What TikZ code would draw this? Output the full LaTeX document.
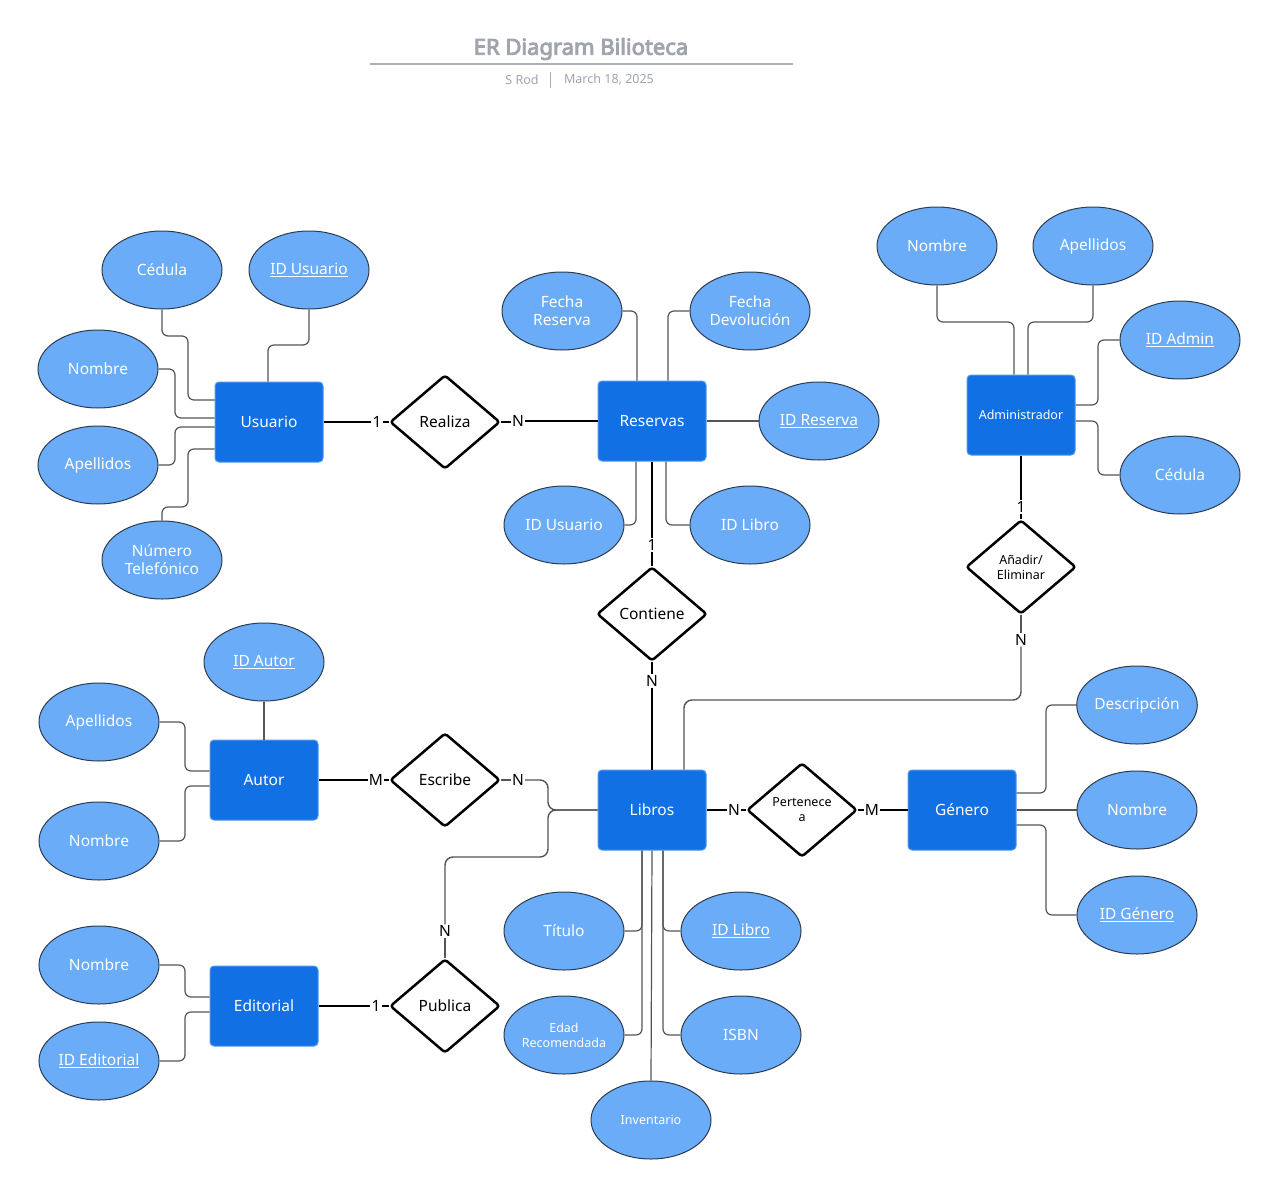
\documentclass[tikz,border=0pt]{standalone}
\usepackage{fontspec}
\setmainfont{Noto Sans}
\newfontfamily\titlefont{Noto Sans}[FakeBold=4]
\usetikzlibrary{shapes.geometric}
\definecolor{entblue}{RGB}{17,112,228}
\definecolor{entedge}{RGB}{80,150,240}
\definecolor{attblue}{RGB}{106,172,248}
\definecolor{attedge}{RGB}{45,60,80}
\definecolor{linegray}{RGB}{85,85,85}
\definecolor{titlegray}{RGB}{160,164,172}
\definecolor{rulegray}{RGB}{170,175,185}
\tikzset{
 entity/.style={draw=entedge, line width=1pt, fill=entblue, rounded corners=4pt, minimum width=108pt, minimum height=80pt, inner sep=0pt, text=white, align=center, font=\fontsize{15.5}{18}\selectfont},
 attr/.style={ellipse, draw=attedge, line width=1pt, fill=attblue, minimum width=120pt, minimum height=78pt, inner sep=0pt, text=white, align=center, font=\fontsize{15.5}{18}\selectfont},
 smallattr/.style={attr, font=\fontsize{12.5}{15}\selectfont},
 rel/.style={diamond, draw=black, line width=2.5pt, fill=white, rounded corners=3pt, minimum width=110pt, minimum height=94pt, inner sep=0pt, align=center, font=\fontsize{15.5}{18}\selectfont},
 smallrel/.style={rel, font=\fontsize{12.5}{15}\selectfont},
 card/.style={inner sep=1pt, font=\fontsize{15.5}{18}\selectfont},
 attline/.style={draw=linegray, line width=1.2pt, rounded corners=6pt},
 relline/.style={draw=black, line width=2pt},
 thinrel/.style={draw=linegray, line width=1.4pt, rounded corners=8pt},
}
\begin{document}
\begin{tikzpicture}[x=1pt,y=-1pt]
\path[use as bounding box, fill=white] (0,0) rectangle (1280,1196);

% title
\node[text=titlegray, font=\titlefont\fontsize{22}{26}\selectfont] (title) at (581,49) {ER Diagram Bilioteca};
\draw[rulegray, line width=1.5pt] (370,64) -- (793,64);
\node[text=titlegray, font=\fontsize{12.5}{15}\selectfont] (author) at (522,80) {S Rod};
\node[text=titlegray, font=\fontsize{12.5}{15}\selectfont] (date) at (609,80) {March 18, 2025};
\draw[rulegray, line width=1pt] (550,72) -- (550,88);

% entities
\node[entity] (usr) at (269,422) {Usuario};
\node[entity] (res) at (652,421) {Reservas};
\node[entity, font=\fontsize{12.5}{15}\selectfont] (adm) at (1021,415) {Administrador};
\node[entity] (aut) at (264,780) {Autor};
\node[entity] (lib) at (652,810) {Libros};
\node[entity] (gen) at (962,810) {Género};
\node[entity] (edi) at (264,1006) {Editorial};

% relationships
\node[rel] (rea) at (445,422) {Realiza};
\node[rel] (con) at (652,614) {Contiene};
\node[smallrel] (ae) at (1021,567) {Añadir/\\Eliminar};
\node[rel] (esc) at (445,780) {Escribe};
\node[smallrel] (per) at (802,810) {Pertenece\\a};
\node[rel] (pub) at (445,1006) {Publica};

% attributes Usuario
\node[attr] (ced) at (162,270) {Cédula};
\node[attr] (idu) at (309,270) {\underline{ID Usuario}};
\node[attr] (nom) at (98,369) {Nombre};
\node[attr] (ape) at (98,465) {Apellidos};
\node[attr] (num) at (162,560) {Número\\Telefónico};

% attributes Reservas
\node[attr] (fr) at (562,311) {Fecha\\Reserva};
\node[attr] (fd) at (750,311) {Fecha\\Devolución};
\node[attr] (idr) at (819,421) {\underline{ID Reserva}};
\node[attr] (riu) at (564,525) {ID Usuario};
\node[attr] (ril) at (750,525) {ID Libro};

% attributes Administrador
\node[attr] (an) at (937,246) {Nombre};
\node[attr] (aa) at (1093,246) {Apellidos};
\node[attr] (aid) at (1180,340) {\underline{ID Admin}};
\node[attr] (ac) at (1180,475) {Cédula};

% attributes Autor
\node[attr] (aia) at (264,662) {\underline{ID Autor}};
\node[attr] (aap) at (99,722) {Apellidos};
\node[attr] (anm) at (99,841) {Nombre};

% attributes Genero
\node[attr] (gd) at (1137,705) {Descripción};
\node[attr] (gn) at (1137,810) {Nombre};
\node[attr] (gid) at (1137,915) {\underline{ID Género}};

% attributes Editorial
\node[attr] (en) at (99,965) {Nombre};
\node[attr] (eid) at (99,1061) {\underline{ID Editorial}};

% attributes Libros
\node[attr] (ti) at (564,931) {Título};
\node[attr] (il) at (741,931) {\underline{ID Libro}};
\node[smallattr] (ed) at (564,1035) {Edad\\Recomendada};
\node[attr] (isb) at (741,1035) {ISBN};
\node[smallattr] (inv) at (651,1120) {Inventario};

% cardinality labels
\node[card] (r1) at (377,422) {1};
\node[card] (r2) at (518,421) {N};
\node[card] (k1) at (652,545) {1};
\node[card] (k2) at (652,681) {N};
\node[card] (a1) at (1021,507) {1};
\node[card] (a2) at (1021,640) {N};
\node[card] (e1) at (376,780) {M};
\node[card] (e2) at (518,780) {N};
\node[card] (p1) at (734,810) {N};
\node[card] (p3) at (872,810) {M};
\node[card] (u1) at (376,1006) {1};
\node[card] (u2) at (445,931) {N};

% attribute connectors Usuario
\path[attline] (ced.south) |- (188,336) |- ([yshift=22pt]usr.west);
\path[attline] (idu.south) |- (268,345) -- ([xshift=-1pt]usr.north);
\path[attline] (nom.east) -| (175,418) -- ([yshift=4pt]usr.west);
\path[attline] (ape.east) -| (175,427) -- ([yshift=-5pt]usr.west);
\path[attline] (num.north) |- (188,507) |- ([yshift=-27pt]usr.west);

% Reservas
\path[attline] (fr.east) -| ([xshift=-15pt]res.north);
\path[attline] (fd.west) -| ([xshift=16pt]res.north);
\path[attline] (res.east) -- (idr.west);
\path[attline] ([xshift=-16pt]res.south) |- (riu.east);
\path[attline] ([xshift=14pt]res.south) |- (ril.west);

% Administrador
\path[attline] (an.south) |- (1014,322) -- ([xshift=-7pt]adm.north);
\path[attline] (aa.south) |- (1028,322) -- ([xshift=7pt]adm.north);
\path[attline] (aid.west) -| (1098,405) -- ([yshift=10pt]adm.east);
\path[attline] ([yshift=-6pt]adm.east) -| (1098,475) -- (ac.west);

% Autor
\path[attline] (aia.south) -- (aut.north);
\path[attline] (aap.east) -| (185,771) -- ([yshift=9pt]aut.west);
\path[attline] (anm.east) -| (185,786) -- ([yshift=-6pt]aut.west);

% Genero
\path[attline] ([yshift=17pt]gen.east) -| (1046,705) -- (gd.west);
\path[attline] (gen.east) -- (gn.west);
\path[attline] ([yshift=-15pt]gen.east) -| (1046,915) -- (gid.west);

% Editorial
\path[attline] (en.east) -| (185,997) -- ([yshift=9pt]edi.west);
\path[attline] (eid.east) -| (185,1012) -- ([yshift=-6pt]edi.west);

% Libros
\path[attline] ([xshift=-10pt]lib.south) |- (ti.east);
\path[attline] ([xshift=-10pt]lib.south) |- (ed.east);
\path[attline] (lib.south) -- (inv.north);
\path[attline] ([xshift=11pt]lib.south) |- (il.west);
\path[attline] ([xshift=11pt]lib.south) |- (isb.west);

% relationship connectors
\path[relline] (usr.east) -- (r1.west);
\path[relline] (r1.east) -- (rea.west);
\path[relline] (rea.east) -- (rea.east -| r2.west);
\path[relline] (r2.east) -- (r2.east -| res.west);

\path[relline] (res.south) -- (k1.north);
\path[relline] (k1.south) -- (con.north);
\path[relline] (con.south) -- (k2.north);
\path[relline] (k2.south) -- (lib.north);

\path[relline] (adm.south) -- (a1.north);
\path[relline] (a1.south) -- (ae.north);
\path[thinrel] (ae.south) -- (a2.north);
\path[thinrel] (a2.south) |- (684,700) -- ([xshift=32pt]lib.north);

\path[relline] (aut.east) -- (e1.west);
\path[relline] (e1.east) -- (esc.west);
\path[thinrel] (esc.east) -- (e2.west);
\path[thinrel] (e2.east) -| (548,810) -- (lib.west);

\path[relline] (lib.east) -- (p1.west);
\path[relline] (p1.east) -- (per.west);
\path[relline] (per.east) -- (p3.west);
\path[relline] (p3.east) -- (gen.west);

\path[relline] (edi.east) -- (u1.west);
\path[relline] (u1.east) -- (pub.west);
\path[thinrel] (pub.north) -- (u2.south);
\path[thinrel] (u2.north) |- (548,857) |- (lib.west);
\end{tikzpicture}
\end{document}
